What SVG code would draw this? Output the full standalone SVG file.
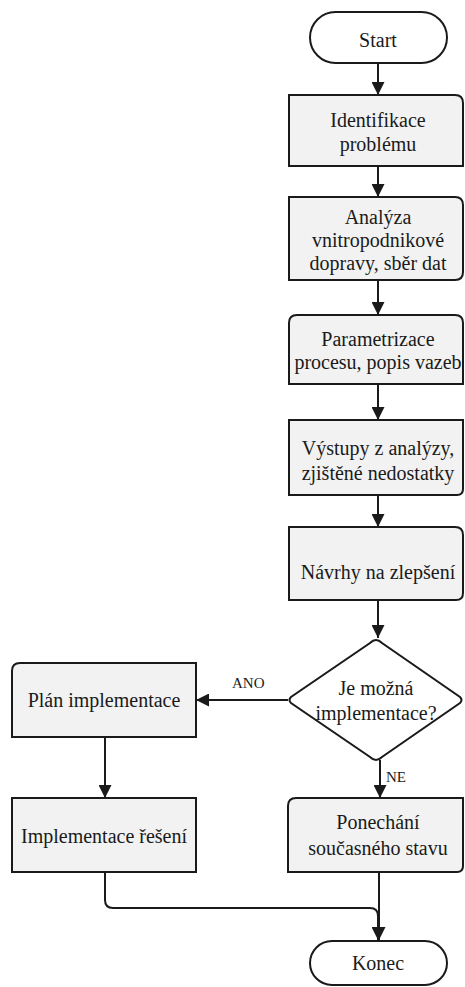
<svg xmlns="http://www.w3.org/2000/svg" width="465" height="987" viewBox="0 0 465 987">
<defs>
<marker id="ah" viewBox="0 0 10 10" refX="10" refY="5" markerWidth="7" markerHeight="6.5" markerUnits="strokeWidth" orient="auto">
<path d="M0,0 L10,5 L0,10 Z" fill="#1a1a1a"/>
</marker>
</defs>
<rect width="465" height="987" fill="#ffffff"/>
<g id="connectors" fill="none" stroke="#1a1a1a" stroke-width="2">
<path d="M378,63 V95" marker-end="url(#ah)"/>
<path d="M378,167 V197" marker-end="url(#ah)"/>
<path d="M378,280 V315" marker-end="url(#ah)"/>
<path d="M378,384 V420" marker-end="url(#ah)"/>
<path d="M378,495 V527" marker-end="url(#ah)"/>
<path d="M378,600 V638" marker-end="url(#ah)"/>
<path d="M288,700 H196" marker-end="url(#ah)"/>
<path d="M380,760 V798" marker-end="url(#ah)"/>
<path d="M105,737 V798" marker-end="url(#ah)"/>
<path d="M105,872 V900 Q105,908 113,908 H370 Q378,908 378,916 V940" marker-end="url(#ah)"/>
<path d="M379,872 V940" marker-end="url(#ah)"/>
</g>
<g id="labels" font-family="Liberation Serif" font-size="15" fill="#1a1a1a">
<text x="232" y="688">ANO</text>
<text x="386" y="782">NE</text>
</g>
<g id="start">
<rect x="310" y="12" width="137" height="51" rx="25.5" fill="#ffffff" stroke="#1a1a1a" stroke-width="2"/>
<text x="378" y="47" font-family="Liberation Serif" font-size="20" text-anchor="middle" fill="#1a1a1a">Start</text>
</g>
<g id="identifikace">
<path d="M289,95 H455 Q463,95 463,103 V166 H289 Z" fill="#f2f2f2" stroke="#1a1a1a" stroke-width="2"/>
<text x="378" y="127" font-family="Liberation Serif" font-size="20" text-anchor="middle" fill="#1a1a1a">Identifikace</text>
<text x="378" y="151" font-family="Liberation Serif" font-size="20" text-anchor="middle" fill="#1a1a1a">problému</text>
</g>
<g id="analyza">
<path d="M289,197 H455 Q463,197 463,205 V272 Q463,280 455,280 H289 Z" fill="#f2f2f2" stroke="#1a1a1a" stroke-width="2"/>
<text x="378" y="224" font-family="Liberation Serif" font-size="20" text-anchor="middle" fill="#1a1a1a">Analýza</text>
<text x="378" y="247" font-family="Liberation Serif" font-size="20" text-anchor="middle" fill="#1a1a1a">vnitropodnikové</text>
<text x="378" y="270" font-family="Liberation Serif" font-size="20" text-anchor="middle" fill="#1a1a1a">dopravy, sběr dat</text>
</g>
<g id="parametrizace">
<path d="M297,315 H455 Q463,315 463,323 V384 H289 V323 Q289,315 297,315 Z" fill="#f2f2f2" stroke="#1a1a1a" stroke-width="2"/>
<text x="378" y="346" font-family="Liberation Serif" font-size="20" text-anchor="middle" fill="#1a1a1a">Parametrizace</text>
<text x="378" y="369" font-family="Liberation Serif" font-size="20" text-anchor="middle" fill="#1a1a1a">procesu, popis vazeb</text>
</g>
<g id="vystupy">
<path d="M289,420 H463 V489 Q463,495 457,495 H289 Z" fill="#f2f2f2" stroke="#1a1a1a" stroke-width="2"/>
<text x="378" y="455" font-family="Liberation Serif" font-size="20" text-anchor="middle" fill="#1a1a1a">Výstupy z analýzy,</text>
<text x="378" y="480" font-family="Liberation Serif" font-size="20" text-anchor="middle" fill="#1a1a1a">zjištěné nedostatky</text>
</g>
<g id="navrhy">
<path d="M289,527 H455 Q463,527 463,535 V593 Q463,600 456,600 H289 Z" fill="#f2f2f2" stroke="#1a1a1a" stroke-width="2"/>
<text x="378" y="579" font-family="Liberation Serif" font-size="20" text-anchor="middle" fill="#1a1a1a">Návrhy na zlepšení</text>
</g>
<g id="rozhodnuti">
<path d="M376,640 Q379,640 382,643 L460,697 Q463,700 460,703 L382,757 Q379,760 376,760 Q373,760 370,757 L291,703 Q288,700 291,697 L370,643 Q373,640 376,640 Z" fill="#ffffff" stroke="#1a1a1a" stroke-width="2"/>
<text x="376" y="695" font-family="Liberation Serif" font-size="20" text-anchor="middle" fill="#1a1a1a">Je možná</text>
<text x="376" y="720" font-family="Liberation Serif" font-size="20" text-anchor="middle" fill="#1a1a1a">implementace?</text>
</g>
<g id="plan">
<path d="M20,663 H196 V737 H12 V671 Q12,663 20,663 Z" fill="#f2f2f2" stroke="#1a1a1a" stroke-width="2"/>
<text x="104" y="707" font-family="Liberation Serif" font-size="20" text-anchor="middle" fill="#1a1a1a">Plán implementace</text>
</g>
<g id="implementace">
<rect x="12" y="798" width="184" height="74" fill="#f2f2f2" stroke="#1a1a1a" stroke-width="2"/>
<text x="104" y="843" font-family="Liberation Serif" font-size="20" text-anchor="middle" fill="#1a1a1a">Implementace řešení</text>
</g>
<g id="ponechani">
<path d="M296,798 H463 V866 Q463,872 457,872 H288 V806 Q288,798 296,798 Z" fill="#f2f2f2" stroke="#1a1a1a" stroke-width="2"/>
<text x="378" y="829" font-family="Liberation Serif" font-size="20" text-anchor="middle" fill="#1a1a1a">Ponechání</text>
<text x="378" y="855" font-family="Liberation Serif" font-size="20" text-anchor="middle" fill="#1a1a1a">současného stavu</text>
</g>
<g id="konec">
<rect x="310" y="941" width="137" height="44" rx="22" fill="#ffffff" stroke="#1a1a1a" stroke-width="2"/>
<text x="378" y="970" font-family="Liberation Serif" font-size="20" text-anchor="middle" fill="#1a1a1a">Konec</text>
</g>
</svg>
